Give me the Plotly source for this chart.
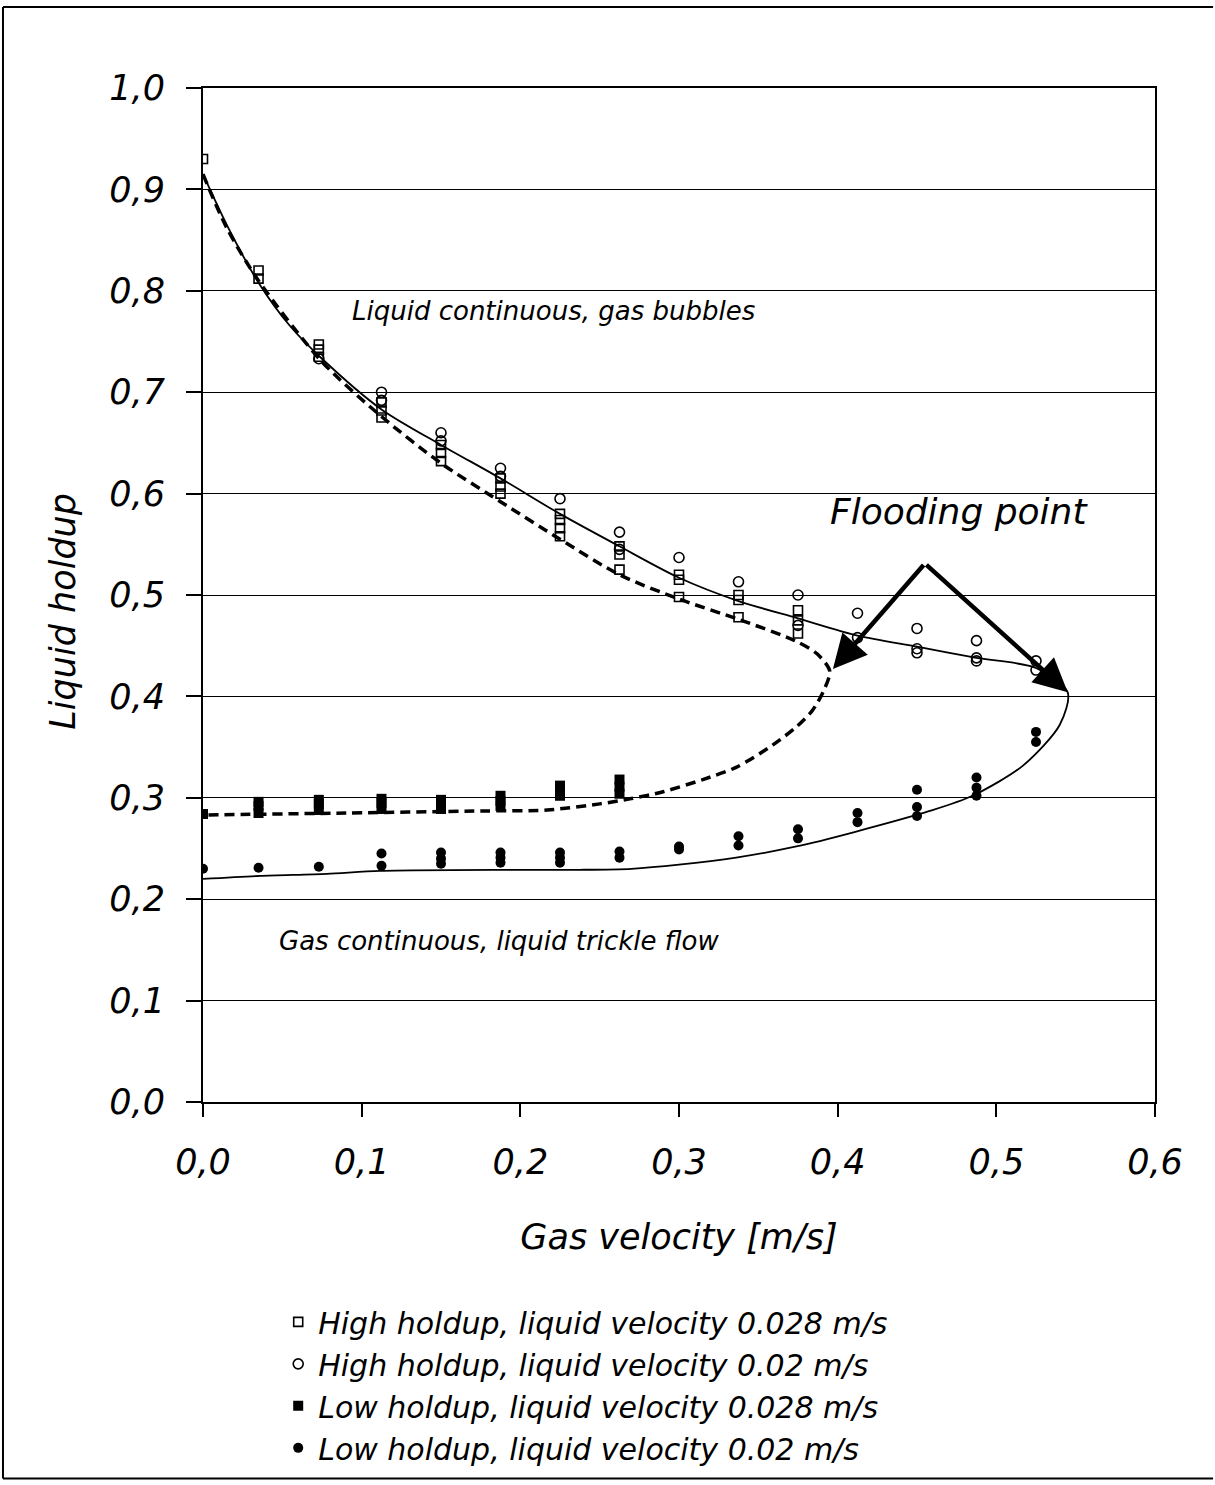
import plotly.graph_objects as go

# ---------------- data ----------------
# High holdup, liquid velocity 0.028 m/s (open squares)
hh028_x = [0.0, 0.035, 0.035, 0.073, 0.073, 0.073, 0.1125, 0.1125, 0.1125,
           0.15, 0.15, 0.15, 0.1875, 0.1875, 0.1875, 0.225, 0.225, 0.225, 0.225,
           0.2625, 0.2625, 0.2625, 0.30, 0.30, 0.30, 0.3375, 0.3375, 0.3375,
           0.375, 0.375, 0.375]
hh028_y = [0.930, 0.812, 0.820, 0.735, 0.742, 0.747, 0.675, 0.682, 0.690,
           0.632, 0.640, 0.648, 0.600, 0.607, 0.615, 0.558, 0.566, 0.574, 0.580,
           0.525, 0.540, 0.548, 0.498, 0.515, 0.520, 0.478, 0.495, 0.500,
           0.462, 0.475, 0.485]

# High holdup, liquid velocity 0.02 m/s (open circles)
hh02_x = [0.073, 0.1125, 0.1125, 0.15, 0.15, 0.1875, 0.1875, 0.225, 0.2625, 0.2625,
          0.30, 0.3375, 0.375, 0.375, 0.4125, 0.4125, 0.45, 0.45, 0.45,
          0.4875, 0.4875, 0.4875, 0.525, 0.525]
hh02_y = [0.733, 0.700, 0.692, 0.660, 0.652, 0.625, 0.617, 0.595, 0.562, 0.545,
          0.537, 0.513, 0.500, 0.470, 0.482, 0.458, 0.467, 0.447, 0.443,
          0.455, 0.438, 0.435, 0.435, 0.426]

# Low holdup, liquid velocity 0.028 m/s (filled squares)
lh028_x = [0.0, 0.035, 0.035, 0.035, 0.073, 0.073, 0.073, 0.1125, 0.1125, 0.1125,
           0.15, 0.15, 0.15, 0.1875, 0.1875, 0.1875, 0.225, 0.225, 0.225,
           0.2625, 0.2625, 0.2625]
lh028_y = [0.284, 0.285, 0.292, 0.296, 0.288, 0.294, 0.298, 0.289, 0.295, 0.299,
           0.289, 0.294, 0.298, 0.292, 0.297, 0.302, 0.302, 0.307, 0.312,
           0.304, 0.311, 0.318]

# Low holdup, liquid velocity 0.02 m/s (filled circles)
lh02_x = [0.0, 0.035, 0.073, 0.1125, 0.1125, 0.15, 0.15, 0.15, 0.1875, 0.1875, 0.1875,
          0.225, 0.225, 0.225, 0.2625, 0.2625, 0.30, 0.30, 0.3375, 0.3375,
          0.375, 0.375, 0.4125, 0.4125, 0.45, 0.45, 0.45, 0.4875, 0.4875, 0.4875,
          0.525, 0.525]
lh02_y = [0.230, 0.231, 0.232, 0.233, 0.245, 0.235, 0.240, 0.246, 0.236, 0.241, 0.246,
          0.236, 0.241, 0.246, 0.241, 0.247, 0.249, 0.252, 0.253, 0.262,
          0.260, 0.269, 0.276, 0.285, 0.282, 0.291, 0.308, 0.302, 0.310, 0.320,
          0.355, 0.365]

# Model curve, liquid velocity 0.02 m/s (solid)
model02_x = [0.0, 0.015, 0.035, 0.055, 0.075, 0.1125, 0.15, 0.1875, 0.225, 0.2625,
             0.30, 0.3375, 0.375, 0.4125, 0.45, 0.4875, 0.525, 0.545,
             0.540, 0.517, 0.485, 0.458, 0.410, 0.374, 0.336, 0.30, 0.27,
             0.2375, 0.195, 0.1115, 0.078, 0.036, 0.0]
model02_y = [0.915, 0.865, 0.808, 0.765, 0.733, 0.683, 0.648, 0.615, 0.580, 0.548,
             0.517, 0.494, 0.477, 0.460, 0.449, 0.438, 0.428, 0.404,
             0.372, 0.332, 0.302, 0.287, 0.266, 0.252, 0.241, 0.234, 0.230,
             0.229, 0.229, 0.228, 0.225, 0.223, 0.220]

# Model curve, liquid velocity 0.028 m/s (dashed)
model028_x = [0.0, 0.015, 0.035, 0.075, 0.1125, 0.15, 0.1875, 0.225, 0.2625, 0.30,
              0.3375, 0.373, 0.387, 0.395, 0.391, 0.384, 0.374, 0.359, 0.336,
              0.315, 0.29, 0.269, 0.25, 0.217, 0.175, 0.09, 0.0]
model028_y = [0.915, 0.862, 0.810, 0.730, 0.676, 0.630, 0.592, 0.555, 0.520, 0.496,
              0.476, 0.455, 0.442, 0.425, 0.405, 0.386, 0.370, 0.352, 0.330,
              0.318, 0.306, 0.299, 0.294, 0.288, 0.287, 0.285, 0.283]

# Flooding point arrows: apex and the two tips
flood_apex = (0.455, 0.531)
flood_tips = [(0.397, 0.427), (0.545, 0.404)]

x_ticks = [0.0, 0.1, 0.2, 0.3, 0.4, 0.5, 0.6]
y_ticks = [0.0, 0.1, 0.2, 0.3, 0.4, 0.5, 0.6, 0.7, 0.8, 0.9, 1.0]

FONT = "DejaVu Sans"

fig = go.Figure()

fig.add_trace(go.Scatter(x=model02_x, y=model02_y, mode="lines",
                         line=dict(color="black", width=1.8, shape="spline", smoothing=0.8),
                         showlegend=False, hoverinfo="skip"))
fig.add_trace(go.Scatter(x=model028_x, y=model028_y, mode="lines",
                         line=dict(color="black", width=3.5, dash="10px,6px",
                                   shape="spline", smoothing=0.8),
                         showlegend=False, hoverinfo="skip"))

fig.add_trace(go.Scatter(x=hh028_x, y=hh028_y, mode="markers",
                         name="High holdup, liquid velocity 0.028 m/s",
                         marker=dict(symbol="square-open", size=9, color="black",
                                     line=dict(width=1.6, color="black"))))
fig.add_trace(go.Scatter(x=hh02_x, y=hh02_y, mode="markers",
                         name="High holdup, liquid velocity 0.02 m/s",
                         marker=dict(symbol="circle-open", size=10, color="black",
                                     line=dict(width=1.6, color="black"))))
fig.add_trace(go.Scatter(x=lh028_x, y=lh028_y, mode="markers",
                         name="Low holdup, liquid velocity 0.028 m/s",
                         marker=dict(symbol="square", size=10, color="black")))
fig.add_trace(go.Scatter(x=lh02_x, y=lh02_y, mode="markers",
                         name="Low holdup, liquid velocity 0.02 m/s",
                         marker=dict(symbol="circle", size=10, color="black")))

annotations = [
    dict(x=0.0926, y=0.78, xref="x", yref="y", text="Liquid continuous, gas bubbles",
         showarrow=False, xanchor="left", yanchor="middle",
         font=dict(family=FONT, size=26, color="black", style="italic")),
    dict(x=0.394, y=0.582, xref="x", yref="y", text="Flooding point",
         showarrow=False, xanchor="left", yanchor="middle",
         font=dict(family=FONT, size=36, color="black", style="italic")),
    dict(x=0.0466, y=0.159, xref="x", yref="y", text="Gas continuous, liquid trickle flow",
         showarrow=False, xanchor="left", yanchor="middle",
         font=dict(family=FONT, size=26, color="black", style="italic")),
    # y-axis title
    dict(x=-0.148, y=0.4837, xref="paper", yref="paper", text="Liquid holdup",
         showarrow=False, xanchor="center", yanchor="middle", textangle=-90,
         font=dict(family=FONT, size=35, color="black", style="italic")),
]
for tx, ty in flood_tips:
    annotations.append(dict(x=tx, y=ty, xref="x", yref="y", ax=flood_apex[0], ay=flood_apex[1],
                            axref="x", ayref="y", text="", showarrow=True,
                            arrowhead=2, arrowsize=1.5, arrowwidth=4.5, arrowcolor="black",
                            standoff=0, startstandoff=0))

# outer frame (left, top, bottom lines of the scanned page)
shapes = [
    dict(type="line", xref="paper", yref="paper", x0=-0.2101, x1=-0.2101, y0=1.0798, y1=-0.3714,
         line=dict(color="black", width=2)),
    dict(type="line", xref="paper", yref="paper", x0=-0.2101, x1=1.061, y0=1.0798, y1=1.0798,
         line=dict(color="black", width=2)),
    dict(type="line", xref="paper", yref="paper", x0=-0.2101, x1=1.061, y0=-0.3714, y1=-0.3714,
         line=dict(color="black", width=2)),
]

fig.update_layout(
    width=1215, height=1485,
    margin=dict(l=203, r=60, t=88, b=382),
    paper_bgcolor="white", plot_bgcolor="white",
    separators=", ",
    font=dict(family=FONT, color="black"),
    annotations=annotations,
    shapes=shapes,
    showlegend=True,
    legend=dict(x=0.079, y=-0.19, xanchor="left", yanchor="top",
                font=dict(family=FONT, size=30, color="black", style="italic"),
                bgcolor="rgba(0,0,0,0)", tracegroupgap=0, itemwidth=30),
)

fig.update_xaxes(range=[0, 0.6], tickvals=x_ticks, tickformat=".1f",
                 showgrid=False, zeroline=False,
                 showline=True, linecolor="black", linewidth=2, mirror=True,
                 ticks="outside", ticklen=13, tickwidth=1.5, tickcolor="black",
                 ticklabelstandoff=15,
                 tickfont=dict(family=FONT, size=35, color="black", style="italic"),
                 title=dict(text="Gas velocity [m/s]", standoff=43,
                            font=dict(family=FONT, size=35, color="black", style="italic")))
fig.update_yaxes(range=[0, 1.0], tickvals=y_ticks, tickformat=".1f",
                 showgrid=True, gridcolor="black", gridwidth=1.4, zeroline=False,
                 showline=True, linecolor="black", linewidth=2, mirror=True,
                 ticks="outside", ticklen=15, tickwidth=1.5, tickcolor="black",
                 ticklabelstandoff=14,
                 tickfont=dict(family=FONT, size=35, color="black", style="italic"))

fig.write_html("out.html")
